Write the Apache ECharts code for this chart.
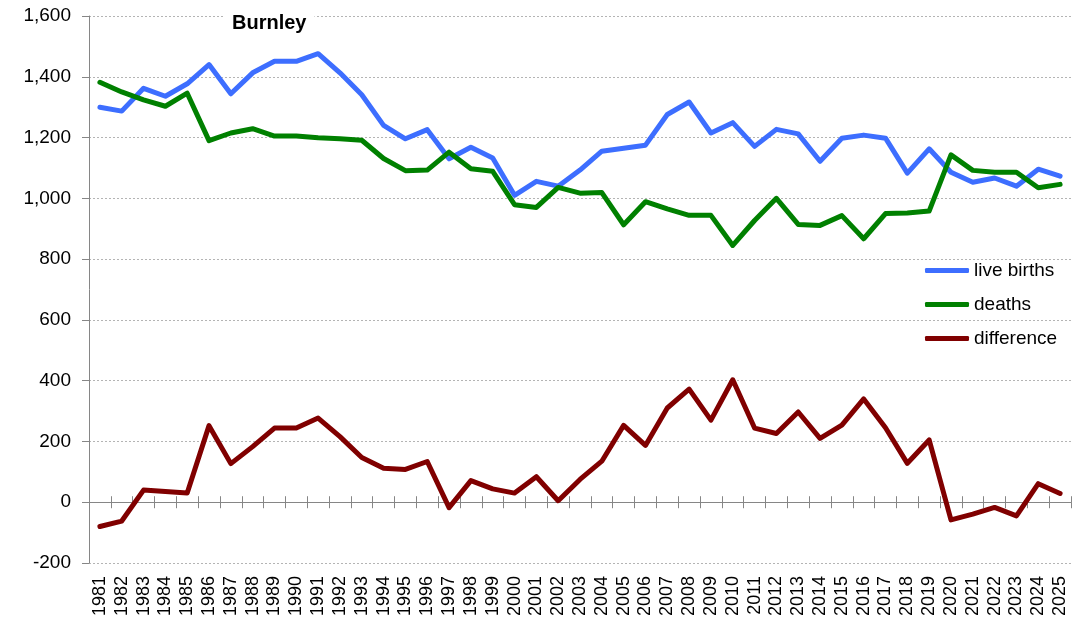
<!DOCTYPE html>
<html><head><meta charset="utf-8">
<script src="https://cdn.jsdelivr.net/npm/echarts@6/dist/echarts.min.js"></script>
<style>html,body{margin:0;padding:0;background:#fff}#c{width:1085px;height:631px}</style>
</head><body><div id="c"></div>
<script>
const years = ['1981','1982','1983','1984','1985','1986','1987','1988','1989','1990','1991','1992','1993','1994','1995','1996','1997','1998','1999','2000','2001','2002','2003','2004','2005','2006','2007','2008','2009','2010','2011','2012','2013','2014','2015','2016','2017','2018','2019','2020','2021','2022','2023','2024','2025'];
const liveBirths = [1300,1287,1362,1336,1377,1440,1344,1413,1451,1451,1476,1413,1341,1240,1196,1226,1130,1168,1133,1010,1056,1040,1093,1155,1165,1175,1276,1317,1215,1249,1171,1227,1212,1122,1198,1208,1198,1083,1163,1086,1053,1067,1040,1096,1073];
const deaths = [1382,1350,1324,1303,1346,1190,1215,1229,1205,1205,1199,1196,1191,1131,1091,1093,1152,1097,1089,979,970,1036,1017,1019,913,989,965,944,944,845,927,1000,914,911,943,867,950,952,958,1143,1092,1086,1086,1035,1046];
const difference = [-80,-62,40,35,30,252,127,183,244,244,277,216,147,112,108,134,-18,71,44,30,84,5,75,135,253,187,310,372,270,403,244,226,297,210,254,340,245,128,205,-58,-39,-17,-45,61,29];

const axisGrey = '#868686';
const chart = echarts.init(document.getElementById('c'), null, {renderer:'canvas'});
const font = 'Liberation Sans, Arial, sans-serif';
const lineSeries = (name, data, color) => ({
  name, type:'line', data, xAxisIndex:0, yAxisIndex:0,
  symbol:'none', showSymbol:false,
  lineStyle:{width:5, color, cap:'round', join:'round'},
  itemStyle:{color}
});
chart.setOption({
  animation:false,
  textStyle:{fontFamily:font},
  title:{text:'Burnley', left:224, top:11, padding:[2,8], backgroundColor:'#fff',
    textStyle:{fontSize:20, fontWeight:'bold', color:'#000', fontFamily:font}},
  legend:{orient:'vertical', left:925, top:261, padding:0, itemWidth:44, itemHeight:5, itemGap:15,
    icon:'roundRect',
    textStyle:{fontSize:19, color:'#000', fontFamily:font},
    data:['live births','deaths','difference']},
  grid:{left:89, right:14, top:16, bottom:68},
  xAxis:[
    {type:'category', data:years, position:'bottom', boundaryGap:true,
      axisLine:{show:false, onZero:false}, axisTick:{show:false},
      axisLabel:{rotate:90, fontSize:18, color:'#000', margin:13, interval:0, fontFamily:font},
      splitLine:{show:false}},
    {type:'category', data:years, position:'bottom', boundaryGap:true,
      axisLine:{show:true, onZero:true, onZeroAxisIndex:0, lineStyle:{color:axisGrey, width:1}},
      axisTick:{show:true, length:6, interval:0, lineStyle:{color:axisGrey}},
      axisLabel:{show:false}, splitLine:{show:false}},
    {type:'category', data:years, position:'top', boundaryGap:true,
      axisLine:{show:true, onZero:true, onZeroAxisIndex:1, lineStyle:{color:axisGrey, width:1}},
      axisTick:{show:true, length:6, interval:0, lineStyle:{color:axisGrey}},
      axisLabel:{show:false}, splitLine:{show:false}}
  ],
  yAxis:[
    {type:'value', min:-200, max:1600, interval:200,
      axisLine:{show:true, onZero:false, lineStyle:{color:axisGrey}},
      axisTick:{show:true, length:7, lineStyle:{color:axisGrey}},
      axisLabel:{fontSize:19, color:'#000', margin:18, fontFamily:font,
        formatter:v => v.toLocaleString('en-US')},
      splitLine:{show:true, lineStyle:{color:'#b4b4b4', type:[2,2], width:1}}},
    {type:'value', min:-200, max:1600, interval:200,
      axisLine:{show:false, onZero:false}, axisTick:{show:false}, axisLabel:{show:false}, splitLine:{show:false}}
  ],
  series:[
    lineSeries('live births', liveBirths, '#3D6EFF'),
    lineSeries('deaths', deaths, '#008000'),
    lineSeries('difference', difference, '#800000')
  ]
});
</script></body></html>
